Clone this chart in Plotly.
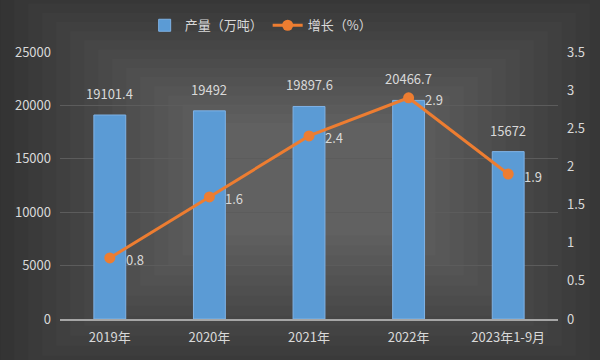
import plotly.graph_objects as go

categories = ["2019年", "2020年", "2021年", "2022年", "2023年1-9月"]
output_vals = [19101.4, 19492, 19897.6, 20466.7, 15672]
growth_vals = [0.8, 1.6, 2.4, 2.9, 1.9]
output_labels = ["19101.4", "19492", "19897.6", "20466.7", "15672"]
growth_labels = ["0.8", "1.6", "2.4", "2.9", "1.9"]

font_fam = "Microsoft YaHei, Noto Sans CJK SC, sans-serif"
txt = "#d9d9d9"

fig = go.Figure()

# radial-ish background gradient: concentric translucent rectangles
n = 16
for i in range(n):
    f = i / n
    fig.add_shape(type="rect", xref="paper", yref="paper",
                  x0=-0.12 + 0.45 * f, x1=1.12 - 0.45 * f,
                  y0=-0.25 + 0.6 * f, y1=1.25 - 0.55 * f,
                  fillcolor="rgba(255,255,255,0.02)", line=dict(width=0),
                  layer="below")

fig.add_trace(go.Bar(
    x=categories, y=output_vals, name="产量（万吨）",
    marker=dict(color="#5b9bd5", line=dict(color="#7fb2e5", width=1)),
    width=0.32,
))
fig.add_trace(go.Scatter(
    x=categories, y=growth_vals, name="增长（%）", yaxis="y2",
    mode="lines+markers",
    line=dict(color="#ed7d31", width=3),
    marker=dict(color="#ed7d31", size=11),
    cliponaxis=False,
))

for c, v, lab in zip(categories, output_vals, output_labels):
    fig.add_annotation(x=c, y=v, xref="x", yref="y", text=lab, showarrow=False,
                       yanchor="bottom", yshift=10,
                       font=dict(color=txt, size=13, family=font_fam))

for c, v, lab in zip(categories, growth_vals, growth_labels):
    fig.add_annotation(x=c, y=v, xref="x", yref="y2", text=lab, showarrow=False,
                       xanchor="left", yanchor="middle", xshift=14, yshift=-2,
                       font=dict(color=txt, size=13, family=font_fam))

fig.update_layout(
    width=600, height=360,
    margin=dict(l=60, r=42, t=52, b=41, autoexpand=False),
    paper_bgcolor="#303030",
    plot_bgcolor="rgba(0,0,0,0)",
    font=dict(family=font_fam, color=txt, size=13),
    showlegend=True,
    legend=dict(orientation="h", x=0.17, xanchor="left", y=1.1, yanchor="middle",
                font=dict(size=13, color=txt), bgcolor="rgba(0,0,0,0)"),
    xaxis=dict(showgrid=False, showline=True, linecolor="#a6a6a6", linewidth=1.5,
               ticks="", tickfont=dict(size=13, color=txt), automargin=False,
               ticklabelstandoff=6),
    yaxis=dict(range=[0, 25000], dtick=5000, tickformat="d", showgrid=True,
               gridcolor="#5c5c5c", gridwidth=1, zeroline=False, ticks="",
               tickfont=dict(size=13, color=txt), ticklabelstandoff=8,
               automargin=False),
    yaxis2=dict(range=[0, 3.5], dtick=0.5, overlaying="y", side="right",
                showgrid=False, zeroline=False, ticks="",
                tickfont=dict(size=13, color=txt), ticklabelstandoff=8,
                automargin=False),
)

fig.write_html("out.html", config={"displayModeBar": False},
               post_script="document.body.style.margin='0';")
